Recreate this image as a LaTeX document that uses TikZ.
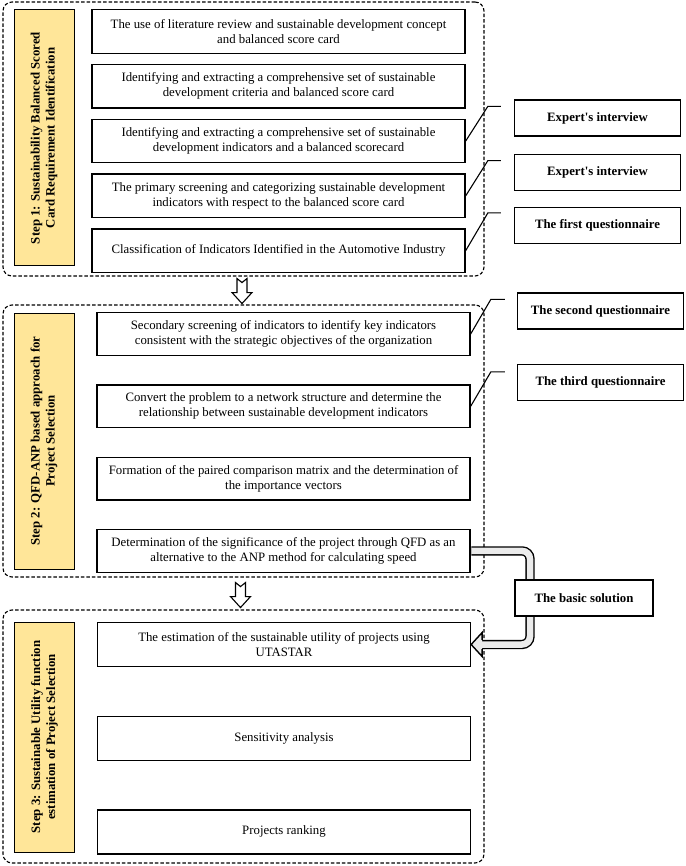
\documentclass[tikz,border=0pt]{standalone}
\usepackage{fontspec}
\setmainfont{Liberation Serif}
\usetikzlibrary{arrows.meta, calc, positioning}
\definecolor{phaseyellow}{RGB}{255,230,153}

\begin{document}
\begin{tikzpicture}[
    x=1pt, y=-1pt,
    font=\fontsize{12.8}{15}\selectfont,
    task/.style={draw, line width=1.3pt, fill=white, minimum width=373pt,
      minimum height=43.5pt, align=center, inner sep=2pt},
    side/.style={draw, line width=1.3pt, fill=white, minimum width=166pt,
      minimum height=36pt, font=\fontsize{12.8}{15}\selectfont\bfseries},
    phase/.style={draw, line width=1pt, fill=phaseyellow, rotate=90,
      minimum height=60pt, align=center, inner sep=2pt,
      font=\fontsize{12.8}{15}\selectfont\bfseries},
    frame/.style={draw, line width=1.1pt, dash pattern=on 3.5pt off 2pt,
      rounded corners=9pt, inner sep=0pt},
    link/.style={line width=1.1pt},
    band/.style={double=black!8, double distance=6.5pt, line width=1.4pt},
    downarrow/.pic={
      \draw[line width=1.1pt, fill=white] (-5,0) -- (0,4) -- (5,0) -- (5,14)
        -- (10,14) -- (0,25) -- (-10,14) -- (-5,14) -- cycle;},
    lefthead/.pic={
      \fill[black!8] (11,-12) -- (0,0) -- (11,12) -- cycle;
      \draw[line width=1.4pt, line join=miter] (11,-4.6) -- (11,-12) -- (0,0)
        -- (11,12) -- (11,4.6);},
  ]
  \useasboundingbox (0,0) rectangle (685,866);

  %% ---- step 1 ------------------------------------------------------
  \node[frame, minimum width=481pt, minimum height=274pt] (frame1) at (243.5,139) {};
  \node[phase, minimum width=256pt] (p1) at (44,138)
    {Step 1: Sustainability Balanced Scored\\Card Requirement Identification};
  \node[task] (b11) at (278.5,31.5)
    {The use of literature review and sustainable development concept\\and balanced score card};
  \node[task, below=10pt of b11] (b12)
    {Identifying and extracting a comprehensive set of sustainable\\development criteria and balanced score card};
  \node[task, below=10pt of b12] (b13)
    {Identifying and extracting a comprehensive set of sustainable\\development indicators and a balanced scorecard};
  \node[task, below=10pt of b13] (b14)
    {The primary screening and categorizing sustainable development\\indicators with respect to the balanced score card};
  \node[task, below=10pt of b14] (b15)
    {Classification of Indicators Identified in the Automotive Industry};

  \node[side] (e1) at (597.5,118) {Expert\textquotesingle s interview};
  \node[side, below=17pt of e1] (e2) {Expert\textquotesingle s interview};
  \node[side, below=16pt of e2] (e3) {The first questionnaire};

  \coordinate (k1) at ($(e1.north west)+(-26,7)$);
  \coordinate (k2) at ($(e2.north west)+(-26,7)$);
  \coordinate (k3) at ($(e3.north west)+(-26,6)$);
  \draw[link] (b13.east) -- (k1) -- ++(13,0);
  \draw[link] (b14.east) -- (k2) -- ++(13,0);
  \draw[link] (b15.east) -- (k3) -- ++(13,0);

  \pic at ($(frame1.south)+(-1.5,2)$) {downarrow};

  %% ---- step 2 ------------------------------------------------------
  \node[frame, minimum width=481pt, minimum height=272pt] (frame2) at (243.5,441) {};
  \node[phase, minimum width=256pt] (p2) at (44,441)
    {Step 2: QFD-ANP based approach for\\Project Selection};
  \node[task, minimum height=42.5pt] (b21) at (283.5,334)
    {Secondary screening of indicators to identify key indicators\\consistent with the strategic objectives of the organization};
  \node[task, minimum height=42.5pt, below=28.5pt of b21] (b22)
    {Convert the problem to a network structure and determine the\\relationship between sustainable development indicators};
  \node[task, minimum height=42.5pt, below=28.5pt of b22] (b23)
    {Formation of the paired comparison matrix and the determination of\\the importance vectors};
  \node[task, minimum height=42.5pt, below=28.5pt of b23] (b24)
    {Determination of the significance of the project through QFD as an\\alternative to the ANP method for calculating speed};

  \node[side] (e4) at (600.5,311) {The second questionnaire};
  \node[side] (e5) at (600.5,382.5) {The third questionnaire};

  \coordinate (k4) at ($(e4.north west)+(-26,7)$);
  \coordinate (k5) at ($(e5.north west)+(-26,8)$);
  \draw[link] (b21.east) -- (k4) -- ++(14,0);
  \draw[link] (b22.east) -- (k5) -- ++(14,0);

  \pic at ($(frame2.south)+(-3,5)$) {downarrow};

  %% ---- step 3 ------------------------------------------------------
  \node[frame, minimum width=481pt, minimum height=253pt] (frame3) at (243.5,736.5) {};
  \node[phase, minimum width=230pt] (p3) at (44.5,737)
    {Step 3: Sustainable Utility function\\estimation of Project Selection};
  \node[task, minimum height=43.5pt] (b31) at (284,644.5)
    {The estimation of the sustainable utility of projects using\\UTASTAR};
  \node[task, minimum height=44pt, below=49pt of b31] (b32) {Sensitivity analysis};
  \node[task, minimum height=44pt, below=48pt of b32] (b33) {Projects ranking};

  %% ---- basic solution feedback ---------------------------------------
  \coordinate (turn) at (530,598);
  \coordinate (headbase) at ($(b31.east)+(11,0)$);
  \draw[band, rounded corners=8pt, shorten <=0.7pt]
    (b24.east) -| (turn) |- (headbase);
  \pic at (b31.east) {lefthead};
  \node[side, minimum width=138pt] (basic) at (584,598) {The basic solution};
\end{tikzpicture}
\end{document}
